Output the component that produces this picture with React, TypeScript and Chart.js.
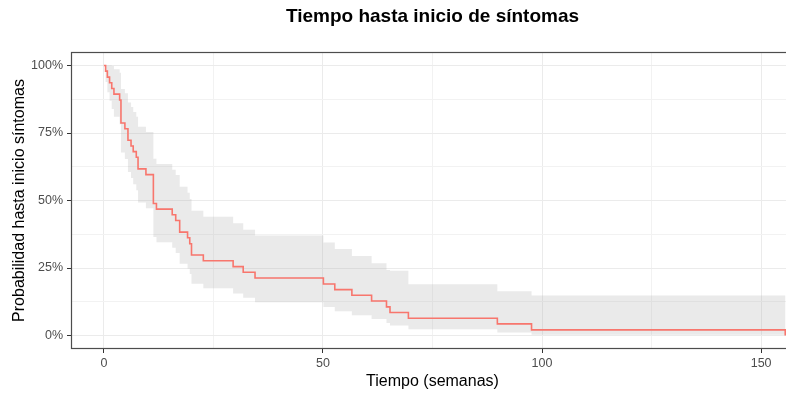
import React, { useEffect, useRef } from "react";
import { Chart, registerables } from "chart.js";

Chart.register(...registerables);

// Kaplan-Meier estimate: event times (weeks) and survival after each event
const weeks = [0, 0.4, 0.8, 1.3, 1.8, 2.3, 3.6, 3.9, 4.8, 5.5, 6.2, 6.7, 7.4, 7.8, 9.6, 11.3, 12.0, 15.6, 16.4, 17.3, 19.1, 19.6, 20.0, 22.7, 29.5, 31.8, 34.5, 50.1, 52.7, 56.6, 61.1, 64.5, 65.3, 69.5, 89.8, 97.6, 155.5];
const survival = [1.0, 0.979, 0.957, 0.936, 0.915, 0.894, 0.872, 0.787, 0.766, 0.723, 0.702, 0.681, 0.66, 0.617, 0.596, 0.489, 0.468, 0.447, 0.426, 0.383, 0.362, 0.34, 0.298, 0.277, 0.255, 0.234, 0.213, 0.191, 0.17, 0.149, 0.128, 0.106, 0.085, 0.064, 0.043, 0.021, 0.0];
const upperCI = [1.0, 1.0, 1.0, 1.0, 0.998, 0.986, 0.973, 0.913, 0.897, 0.863, 0.846, 0.828, 0.81, 0.773, 0.754, 0.655, 0.635, 0.614, 0.594, 0.551, 0.529, 0.506, 0.462, 0.44, 0.416, 0.392, 0.37, 0.344, 0.32, 0.294, 0.268, 0.243, 0.24, 0.19, 0.164, 0.148, 0.148];
const lowerCI = [1.0, 0.939, 0.901, 0.869, 0.839, 0.81, 0.782, 0.678, 0.654, 0.606, 0.583, 0.56, 0.538, 0.493, 0.471, 0.365, 0.345, 0.325, 0.306, 0.266, 0.248, 0.228, 0.192, 0.175, 0.156, 0.14, 0.123, 0.106, 0.09, 0.075, 0.061, 0.046, 0.037, 0.023, 0.011, 0.003, 0.003];

// Axis ticks: every value gets a grid line, labelled ones are the major ones
const xTickValues = [0, 25, 50, 75, 100, 125, 150];
const xLabeledTicks = [0, 50, 100, 150];
const yTickValues = [0, 0.125, 0.25, 0.375, 0.5, 0.625, 0.75, 0.875, 1];
const yLabeledTicks = [0, 0.25, 0.5, 0.75, 1];

const chartTitle = "Tiempo hasta inicio de síntomas";
const xTitle = "Tiempo (semanas)";
const yTitle = "Probabilidad hasta inicio síntomas";

const FONT = "'Liberation Sans', Arial, Helvetica, sans-serif";
const LINE_COLOR = "#F8766D";
const BAND_COLOR = "rgba(170, 170, 170, 0.25)";
const GRID_MAJOR = "#EBEBEB";
const GRID_MINOR = "#F2F2F2";
const AXIS_DARK = "#333333";

const isMajor = (list: number[], v: number) => list.some((m) => Math.abs(m - v) < 1e-9);

// Step-shaped confidence ribbon, filled as one polygon through the chart scales
const ribbonPlugin = {
  id: "kmRibbon",
  beforeDatasetsDraw(chart: any) {
    const { ctx, chartArea: a, scales } = chart;
    const xs = scales.x;
    const ys = scales.y;
    const stepPath = (vals: number[]) => {
      const pts: [number, number][] = [[weeks[0], vals[0]]];
      for (let i = 1; i < weeks.length; i++) {
        pts.push([weeks[i], vals[i - 1]]);
        pts.push([weeks[i], vals[i]]);
      }
      return pts;
    };
    const upper = stepPath(upperCI);
    const lower = stepPath(lowerCI).reverse();
    ctx.save();
    ctx.beginPath();
    ctx.rect(a.left, a.top, a.right - a.left, a.bottom - a.top);
    ctx.clip();
    ctx.beginPath();
    [...upper, ...lower].forEach(([t, v], i) => {
      const px = xs.getPixelForValue(t);
      const py = ys.getPixelForValue(v);
      if (i === 0) ctx.moveTo(px, py);
      else ctx.lineTo(px, py);
    });
    ctx.closePath();
    ctx.fillStyle = BAND_COLOR;
    ctx.fill();
    ctx.restore();
  },
};

// Panel border and centred main title
const panelPlugin = {
  id: "panelFrame",
  afterDatasetsDraw(chart: any) {
    const { ctx, chartArea: a } = chart;
    ctx.save();
    ctx.strokeStyle = "#4D4D4D";
    ctx.lineWidth = 1.2;
    ctx.strokeRect(a.left + 0.5, a.top + 0.5, a.right - a.left - 1, a.bottom - a.top - 1);
    ctx.restore();
  },
  afterDraw(chart: any) {
    const { ctx, chartArea: a } = chart;
    ctx.save();
    ctx.fillStyle = "#000000";
    ctx.font = `bold 19px ${FONT}`;
    ctx.textAlign = "center";
    ctx.textBaseline = "middle";
    ctx.fillText(chartTitle, (a.left + a.right) / 2, 17);
    ctx.restore();
  },
};

export default function App() {
  const canvasRef = useRef<HTMLCanvasElement | null>(null);

  useEffect(() => {
    if (!canvasRef.current) return;
    const toPoints = (ys: number[]) => weeks.map((t, i) => ({ x: t, y: ys[i] }));

    const chart = new Chart(canvasRef.current, {
      type: "line",
      data: {
        datasets: [
          {
            label: "survival",
            data: toPoints(survival),
            stepped: "before",
            borderColor: LINE_COLOR,
            borderWidth: 1.6,
            pointRadius: 0,
            fill: false,
          },
        ],
      },
      options: {
        animation: false,
        responsive: true,
        maintainAspectRatio: false,
        layout: { padding: { top: 52, left: 0, right: 6, bottom: 0 } },
        plugins: {
          legend: { display: false },
          tooltip: { enabled: false },
          title: { display: false },
        },
        scales: {
          x: {
            type: "linear",
            min: -7.5,
            max: 157.5,
            afterBuildTicks: (s: any) => {
              s.ticks = xTickValues.map((v) => ({ value: v }));
            },
            afterFit: (s: any) => {
              s.height = 44;
            },
            border: { display: false },
            grid: {
              color: (c: any) => (isMajor(xLabeledTicks, c.tick?.value) ? GRID_MAJOR : GRID_MINOR),
              lineWidth: 1,
              tickLength: 4,
              tickColor: (c: any) => (isMajor(xLabeledTicks, c.tick?.value) ? AXIS_DARK : "rgba(0,0,0,0)"),
            },
            ticks: {
              autoSkip: false,
              maxRotation: 0,
              padding: 3,
              color: "#4D4D4D",
              font: { family: FONT, size: 12.5 },
              callback: (v: any) => (isMajor(xLabeledTicks, Number(v)) ? String(v) : ""),
            },
            title: {
              display: true,
              text: xTitle,
              color: "#000000",
              font: { family: FONT, size: 16 },
              padding: { top: 0, bottom: 2 },
            },
          },
          y: {
            type: "linear",
            min: -0.05,
            max: 1.05,
            afterBuildTicks: (s: any) => {
              s.ticks = yTickValues.map((v) => ({ value: v }));
            },
            afterFit: (s: any) => {
              s.width = 71;
            },
            border: { display: false },
            grid: {
              color: (c: any) => (isMajor(yLabeledTicks, c.tick?.value) ? GRID_MAJOR : GRID_MINOR),
              lineWidth: 1,
              tickLength: 4,
              tickColor: (c: any) => (isMajor(yLabeledTicks, c.tick?.value) ? AXIS_DARK : "rgba(0,0,0,0)"),
            },
            ticks: {
              autoSkip: false,
              padding: 4,
              color: "#4D4D4D",
              font: { family: FONT, size: 12.5 },
              callback: (v: any) =>
                isMajor(yLabeledTicks, Number(v)) ? `${Math.round(Number(v) * 100)}%` : "",
            },
            title: {
              display: true,
              text: yTitle,
              color: "#000000",
              font: { family: FONT, size: 16 },
              padding: { top: 10, bottom: 0 },
            },
          },
        },
      },
      plugins: [ribbonPlugin, panelPlugin],
    });

    return () => chart.destroy();
  }, []);

  return (
    <div
      style={{
        position: "fixed",
        left: 0,
        top: 0,
        width: 786,
        height: 393,
        overflow: "hidden",
        background: "#ffffff",
      }}
    >
      <div style={{ position: "absolute", left: 0, top: 0, width: 800, height: 393 }}>
        <canvas ref={canvasRef} />
      </div>
    </div>
  );
}
